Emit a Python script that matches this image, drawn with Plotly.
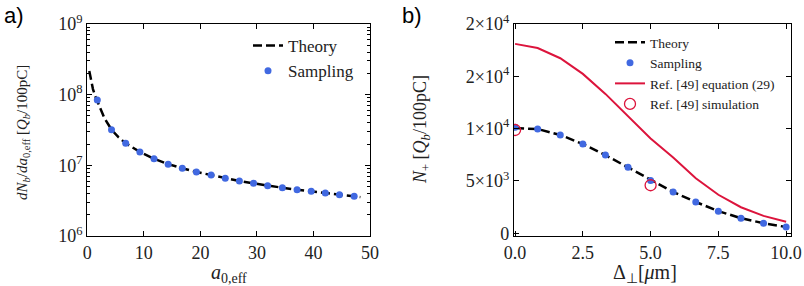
import plotly.graph_objects as go

# ---------- Panel a data ----------
a_theory_x = [0.35, 0.6, 1.0, 1.4, 2.0, 3.0, 4.28, 5.5, 6.79, 9.3, 11.8, 14.3, 16.8, 19.3,
              21.9, 24.4, 26.9, 29.4, 31.9, 34.5, 37.1, 39.6, 42.1, 44.6, 47.2, 48.3]
a_theory_y = [2.16e8, 1.7e8, 1.2e8, 9.5e7, 7.4e7, 4.7e7, 3.2e7, 2.5e7, 2.05e7, 1.55e7, 1.24e7,
              1.04e7, 9.1e6, 8.05e6, 7.3e6, 6.6e6, 6.0e6, 5.55e6, 5.15e6, 4.82e6, 4.52e6,
              4.28e6, 4.05e6, 3.85e6, 3.65e6, 3.55e6]
a_samp_x = [1.77, 4.28, 6.79, 9.3, 11.8, 14.3, 16.8, 19.3, 21.9, 24.4, 26.9, 29.4, 31.9,
            34.5, 37.1, 39.6, 42.1, 44.6, 47.2]
a_samp_y = [8.4e7, 3.2e7, 2.05e7, 1.55e7, 1.24e7, 1.04e7, 9.1e6, 8.05e6, 7.3e6, 6.55e6, 6.0e6,
            5.57e6, 5.15e6, 4.83e6, 4.52e6, 4.3e6, 4.06e6, 3.85e6, 3.65e6]
a_ytick_vals = [1e6, 1e7, 1e8, 1e9]
a_ytick_text = ["10<sup>6</sup>", "10<sup>7</sup>", "10<sup>8</sup>", "10<sup>9</sup>"]
a_yminor_mult = [2, 3, 4, 5, 6, 7, 8, 9]
a_xtick_vals = [0, 10, 20, 30, 40, 50]

# ---------- Panel b data ----------
b_x = [0, 0.833, 1.667, 2.5, 3.333, 4.167, 5.0, 5.833, 6.667, 7.5, 8.333, 9.167, 10.0]
b_theory = [10050, 9960, 9400, 8530, 7470, 6300, 5050, 3950, 2990, 2120, 1440, 960, 600]
b_samp = [10130, 9970, 9400, 8530, 7470, 6300, 5040, 3940, 2990, 2110, 1440, 960, 590]
b_ref_eq = [18100, 17700, 16730, 15230, 13320, 11150, 9050, 7250, 5250, 3680, 2490, 1660, 1110]
b_ref_sim_x = [0.0, 5.0]
b_ref_sim_y = [9870, 4590]
b_ytick_vals = [0, 5000, 10000, 15000, 20000]
b_ytick_text = ["0", "5×10<sup>3</sup>", "1×10<sup>4</sup>", "2×10<sup>4</sup>", "2×10<sup>4</sup>"]
b_xtick_vals = [0, 2.5, 5, 7.5, 10]
b_xtick_text = ["0.0", "2.5", "5.0", "7.5", "10.0"]

W, H = 804, 286
SERIF = "Liberation Serif"
BLUE = "#4169E1"
RED = "#DC143C"

a_minor_vals = [m * d for d in a_ytick_vals[:-1] for m in a_yminor_mult]

fig = go.Figure()
fig.add_trace(go.Scatter(x=a_theory_x, y=a_theory_y, mode="lines", name="Theory",
                         line=dict(color="black", width=2.5, dash="9px,4px"),
                         xaxis="x", yaxis="y", legend="legend"))
fig.add_trace(go.Scatter(x=a_samp_x, y=a_samp_y, mode="markers", name="Sampling",
                         marker=dict(color=BLUE, size=7), xaxis="x", yaxis="y", legend="legend"))
fig.add_trace(go.Scatter(x=b_x, y=b_theory, mode="lines", name="Theory",
                         line=dict(color="black", width=2.5, dash="9px,4px"),
                         xaxis="x2", yaxis="y2", legend="legend2"))
fig.add_trace(go.Scatter(x=b_x, y=b_samp, mode="markers", name="Sampling",
                         marker=dict(color=BLUE, size=7), xaxis="x2", yaxis="y2", legend="legend2"))
fig.add_trace(go.Scatter(x=b_x, y=b_ref_eq, mode="lines", name="Ref. [49] equation (29)",
                         line=dict(color=RED, width=2), xaxis="x2", yaxis="y2", legend="legend2"))
fig.add_trace(go.Scatter(x=b_ref_sim_x, y=b_ref_sim_y, mode="markers", name="Ref. [49] simulation",
                         marker=dict(symbol="circle-open", color=RED, size=11, line=dict(width=1.3)),
                         xaxis="x2", yaxis="y2", legend="legend2"))

def px(v):
    return v / W

def py(v):
    return 1 - v / H

ax_common = dict(showline=True, linecolor="black", linewidth=1.3, mirror="ticks",
                 ticks="inside", ticklen=5, tickwidth=1, tickcolor="black",
                 showgrid=False, zeroline=False,
                 tickfont=dict(family=SERIF, size=18, color="#222"))

fig.update_layout(
    width=W, height=H, margin=dict(l=0, r=0, t=0, b=0, autoexpand=False),
    paper_bgcolor="white", plot_bgcolor="white",
    xaxis=dict(domain=[px(87.3), px(370)], range=[0, 50], tickvals=a_xtick_vals,
               anchor="y", **ax_common),
    yaxis=dict(domain=[py(236), py(24)], type="log", range=[6, 9], tickvals=a_ytick_vals,
               ticktext=a_ytick_text, anchor="x",
               minor=dict(ticks="inside", ticklen=3, tickcolor="black", showgrid=False,
                          tickvals=a_minor_vals),
               **ax_common),
    xaxis2=dict(domain=[px(514), px(791)], range=[-0.04, 10.18], tickvals=b_xtick_vals,
                ticktext=b_xtick_text, anchor="y2", **ax_common),
    yaxis2=dict(domain=[py(236), py(24)], range=[-260, 20000], tickvals=b_ytick_vals,
                ticktext=b_ytick_text, anchor="x2", **ax_common),
    legend=dict(x=px(248), y=py(28), xanchor="left", yanchor="top",
                font=dict(family=SERIF, size=17, color="#222"), bgcolor="rgba(0,0,0,0)",
                tracegroupgap=0, itemwidth=30),
    legend2=dict(x=px(610), y=py(27), xanchor="left", yanchor="top",
                 font=dict(family=SERIF, size=13.5, color="#222"), bgcolor="rgba(0,0,0,0)",
                 tracegroupgap=0, itemwidth=30),
    showlegend=True,
)

annos = [
    dict(x=px(14), y=py(15), text="a)", font=dict(family="Liberation Sans", size=22, color="black")),
    dict(x=px(412), y=py(15), text="b)", font=dict(family="Liberation Sans", size=22, color="black")),
    dict(x=px(229), y=py(273), text="<i>a</i><sub>0,eff</sub>",
         font=dict(family=SERIF, size=20, color="#222")),
    dict(x=px(645), y=py(273), text="Δ<sub>⊥</sub>[<i>μ</i>m]",
         font=dict(family=SERIF, size=20, color="#222")),
    dict(x=px(23), y=py(133), textangle=-90,
         text="<i>dN<sub>b</sub></i>/<i>da</i><sub>0,eff</sub> [<i>Q<sub>b</sub></i>/100pC]",
         font=dict(family=SERIF, size=15, color="#222")),
    dict(x=px(421), y=py(130), textangle=-90,
         text="<i>N</i><sub>+</sub> [<i>Q<sub>b</sub></i>/100pC]",
         font=dict(family=SERIF, size=18, color="#222")),
]
for a in annos:
    a.update(xref="paper", yref="paper", showarrow=False, xanchor="center", yanchor="middle")
fig.update_layout(annotations=annos)

fig.write_html("out.html", config={"displayModeBar": False},
               post_script="document.body.style.margin='0';document.body.style.padding='0';")
